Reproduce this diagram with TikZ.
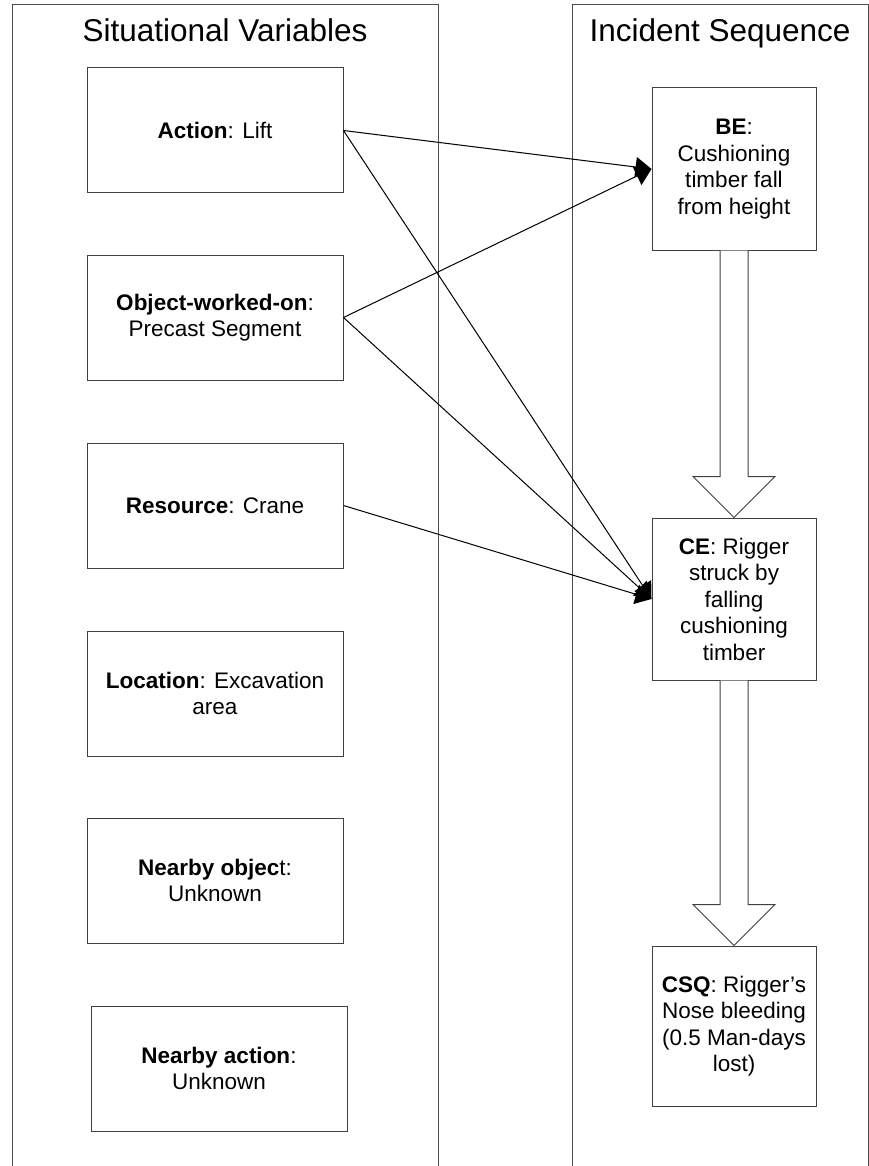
\documentclass[tikz,border=0pt]{standalone}
\usepackage{fontspec}
\setmainfont{Liberation Sans}
\usetikzlibrary{arrows.meta,calc}

\tikzset{
  panel/.style={draw=black!70, line width=1pt},
  varbox/.style={draw=black!75, line width=1pt, inner sep=0pt, align=center,
    minimum width=256pt, minimum height=125pt,
    font=\fontsize{22.5}{26.5}\selectfont},
  seqbox/.style={draw=black!75, line width=1pt, inner sep=0pt, align=center,
    minimum width=164pt, minimum height=162pt,
    font=\fontsize{22.5}{26.5}\selectfont},
  paneltitle/.style={anchor=base, inner sep=0pt, font=\fontsize{31.5}{36}\selectfont},
  link/.style={draw=black, line width=1pt, -{Triangle[length=16pt,width=20pt]}},
  blockarrow/.style={draw=black!75, line width=1pt, fill=white}
}

\begin{document}
\begin{tikzpicture}[x=1pt,y=-1pt]
\useasboundingbox (0,0) rectangle (869,1166);

% the two swimlanes, open at the bottom
\draw[panel] (12,1166) -- (12,5) -- (438,5) -- (438,1166);
\draw[panel] (572,1166) -- (572,5) -- (868,5) -- (868,1166);

\node[paneltitle] (t1) at (225,42) {Situational Variables};
\node[paneltitle] (t2) at (720,42) {Incident Sequence};

% situational variables
\node[varbox] (act) at (215,130.5) {\textbf{Action}: Lift};
\node[varbox] (obj) at (215,317.5) {\textbf{Object-worked-on}:\\Precast Segment};
\node[varbox] (res) at (215,505.5) {\textbf{Resource}: Crane};
\node[varbox] (loc) at (215,693.5) {\textbf{Location}: Excavation\\area};
\node[varbox] (nobj) at (215,880.5) {\textbf{Nearby objec}t:\\Unknown};
\node[varbox] (nact) at (219,1068.5) {\textbf{Nearby action}:\\Unknown};

% incident sequence
\node[seqbox] (be) at (734,169) {\textbf{BE}:\\Cushioning\\timber fall\\from height};
\node[seqbox] (ce) at (734,599) {\textbf{CE}: Rigger\\struck by\\falling\\cushioning\\timber};
\node[seqbox, minimum height=160pt] (csq) at (734,1026) {\textbf{CSQ}: Rigger’s\\Nose bleeding\\(0.5 Man-days\\lost)};

% block arrows between the sequence steps
\draw[blockarrow] ($(be.south)+(-14,0)$) -- ($(ce.north)+(-14,-41)$) -- ($(ce.north)+(-41,-41)$)
  -- (ce.north) -- ($(ce.north)+(41,-41)$) -- ($(ce.north)+(14,-41)$) -- ($(be.south)+(14,0)$);
\draw[blockarrow] ($(ce.south)+(-14,0)$) -- ($(csq.north)+(-14,-41)$) -- ($(csq.north)+(-41,-41)$)
  -- (csq.north) -- ($(csq.north)+(41,-41)$) -- ($(csq.north)+(14,-41)$) -- ($(ce.south)+(14,0)$);

% influence links
\draw[link] (act.east) -- (be.west);
\draw[link] (obj.east) -- (be.west);
\draw[link] (act.east) -- (ce.west);
\draw[link] (obj.east) -- (ce.west);
\draw[link] (res.east) -- (ce.west);
\end{tikzpicture}
\end{document}
